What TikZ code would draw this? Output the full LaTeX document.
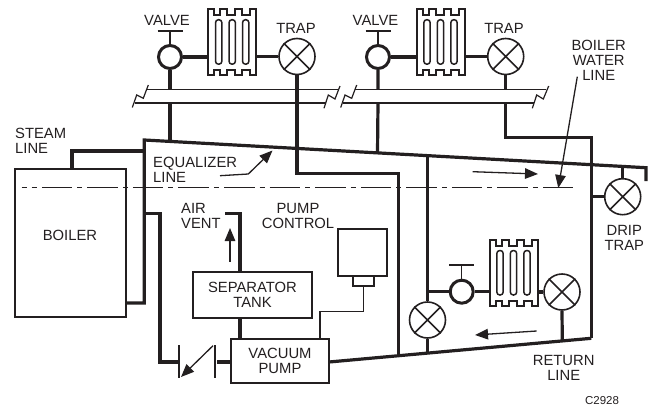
\documentclass[tikz,border=0pt]{standalone}
\usepackage{fontspec}
\setmainfont{Liberation Sans}
\usetikzlibrary{arrows.meta}
\definecolor{ink}{HTML}{231F20}
\tikzset{
  x=1pt,y=-1pt,
  pipe/.style={line width=3.2pt,draw=ink,line join=miter},
  thinpipe/.style={line width=1.2pt,draw=ink,line join=miter},
  boxed/.style={draw=ink,line width=2pt,fill=white,inner sep=0pt,align=center,text=ink},
  lbl/.style={inner sep=0pt,text=ink,align=center,font=\fontsize{14.8}{15}\selectfont},
  lblleft/.style={lbl,align=left,anchor=west},
  valvebody/.style={circle,draw=ink,line width=3pt,fill=white,minimum size=23pt,inner sep=0pt},
  trapbody/.style={circle,draw=ink,line width=1.6pt,fill=white,minimum size=36pt,inner sep=0pt},
  breakline/.style={line width=1.2pt,draw=ink,line join=miter},
  tipline/.style={line width=1.3pt,draw=ink,-{Triangle[length=13pt,width=10.5pt]}},
  radbody/.style={rectangle,minimum width=48pt,minimum height=65.5pt,inner sep=0pt},
  pics/radiator/.style={code={
    \draw[ink,line width=2pt,line join=miter,fill=white]
      (-24,-32.75)--(-18,-32.75)--(-18,-27.5)--(-12,-27.5)--(-12,-32.75)--(-5,-32.75)--(-5,-27.5)--(3,-27.5)--(3,-32.75)--(10,-32.75)--(10,-27.5)--(18,-27.5)--(18,-32.75)--(24,-32.75)
      --(24,32.75)--(18,32.75)--(18,27.5)--(10,27.5)--(10,32.75)--(3,32.75)--(3,27.5)--(-5,27.5)--(-5,32.75)--(-12,32.75)--(-12,27.5)--(-18,27.5)--(-18,32.75)--(-24,32.75)--cycle;
    \foreach \q in {-13.5,0,13.5}{
      \draw[ink,line width=1.5pt,rounded corners=3pt] (\q-3.2,-22.5) rectangle (\q+3.2,22);
    }
  }}
}
\newcommand{\trapcross}[1]{\draw[ink,line width=1.6pt] (#1.45)--(#1.225) (#1.135)--(#1.315);}
\begin{document}
\begin{tikzpicture}
\useasboundingbox (0,0) rectangle (648,407);
% header (supply) breaks
\coordinate (ta) at (147,89.5); \coordinate (tb) at (338,89.5);
\coordinate (ba) at (135,103); \coordinate (bb) at (326,103);
\coordinate (tc) at (355,89.5); \coordinate (td) at (546,89.5);
\coordinate (bc) at (343,103); \coordinate (bd) at (534,103);
\draw[breakline] (ba)--(bb) (ta)--(tb) (tc)--(td) (bc)--(bd);
\draw[breakline] (132.3,107.5)--(136.7,95)--(143.3,98.3)--(148.3,85);
\draw[breakline] (324,108.3)--(328.3,95)--(335,99)--(340,86);
\draw[breakline] (340.7,107.5)--(345,95)--(351.7,98.3)--(356.7,85);
\draw[breakline] (532.3,108.3)--(536.7,95)--(543.3,99)--(548.7,86);
% main nodes
\node[valvebody] (v1) at (170,57) {};
\node[valvebody] (v2) at (378,57) {};
\node[valvebody] (v3) at (461.7,291.7) {};
\node[trapbody] (t1) at (297,56.5) {};
\node[trapbody] (t2) at (505.7,56.5) {};
\node[trapbody] (t3) at (562,292) {};
\node[trapbody] (t4) at (427.5,320) {};
\node[trapbody] (t5) at (622.7,196.7) {};
\node[radbody] (r1) at (232.2,42.2) {};
\node[radbody] (r2) at (440.5,42.2) {};
\node[radbody] (r3) at (513.5,273) {};
% named pipe junctions
\coordinate (eqa) at (144.3,140); \coordinate (eqb) at (646,167.7); \coordinate (eqc) at (646,181);
\coordinate (eqv1) at (170,141.4); \coordinate (eqv2) at (377.5,152.9);
\coordinate (eqt4) at (427.5,155.7); \coordinate (eqt5) at (622.7,166.4);
\coordinate (bl) at (144.3,303); \coordinate (blb) at (125.5,303);
\coordinate (sl1) at (72,168.7); \coordinate (sl2) at (72,151); \coordinate (sl3) at (144.3,151);
\coordinate (rta) at (329,362); \coordinate (rtb) at (591.3,338.3);
\coordinate (rt4) at (427.5,353.1); \coordinate (rt3) at (562.3,340.9); \coordinate (rtj) at (398.3,355.7);
% pipes
\draw[pipe] (v1.south)--(v1.south|-ta) (v1.south|-ba)--(eqv1);
\draw[pipe] (v2.south)--(v2.south|-tc) (v2.south|-bc)--(eqv2);
\draw[pipe] (v1.east)--(v1.east-|r1.west);
\draw[pipe] (t1.west-|r1.east)--(t1.west);
\draw[pipe] (v2.east)--(v2.east-|r2.west);
\draw[pipe] (t2.west-|r2.east)--(t2.west);
\draw[pipe] (t1.south)--(297,173.5)--(398.3,173.5)--(rtj);
\draw[pipe] (t2.south)--(t2.south|-tc) (t2.south|-bc)--(505.7,137.3)--(591.3,137.3)--(rtb);
\draw[pipe] (blb)--(bl)--(eqa)--(eqb)--(eqc);
\draw[pipe] (sl1)--(sl2)--(sl3);
\draw[pipe] (rta)--(rtb);
\draw[pipe] (eqt4)--(t4.north);
\draw[pipe] (t4.south)--(rt4);
\draw[pipe] (427.5,291.7)--(v3.west);
\draw[pipe] (v3.east)--(v3.east-|r3.west);
\draw[pipe] (t3.west-|r3.east)--(t3.west);
\draw[pipe] (t3.south)--(rt3);
\draw[pipe] (eqt5)--(t5.north);
\draw[pipe] (591.3,196.7)--(t5.west);
% radiators on top
\pic at (r1) {radiator}; \pic at (r2) {radiator}; \pic at (r3) {radiator};
\foreach \t in {t1,t2,t3,t4,t5}{\trapcross{\t}}
% valve handles
\foreach \v/\yy in {v1/31,v2/31,v3/265.3}{
  \draw[ink,line width=1.5pt] (\v.north)--(\v.north|-0,\yy);
  \draw[ink,line width=1.7pt] ([xshift=-12.5pt]\v.north|-0,\yy)--([xshift=12.5pt]\v.north|-0,\yy);
}
% boxes
\node[draw=ink,line width=2pt,inner sep=0pt,minimum width=111pt,minimum height=148.6pt] (boiler) at (70,243) {};
\node[boxed,minimum width=118.4pt,minimum height=46pt,font=\fontsize{14.8}{15}\selectfont] (sep) at (252.5,295.3) {SEPARATOR\\TANK};
\node[boxed,minimum width=98pt,minimum height=44pt,font=\fontsize{14.8}{15}\selectfont] (vac) at (280,360.7) {VACUUM\\PUMP};
\node[boxed,minimum width=48.4pt,minimum height=46.4pt] (ctl) at (362.5,252.5) {};
\node[boxed,minimum width=21.3pt,minimum height=10.3pt] (ctls) at (363.3,280.9) {};
\coordinate (av1) at (240,213.3); \coordinate (av2) at (225,213.3);
\draw[pipe] (240,272.3)--(av1)--(av2);
\draw[pipe] (240,318.3)--(240,338.7);
\draw[thinpipe] (ctls.south)--(363.3,311.7)--(320,311.7)--(320,338.7);
\coordinate (chkl) at (179.3,362); \coordinate (chkr) at (217,362);
\draw[pipe] (144.3,213.3)--(160,213.3)--(160,362)--(chkl);
\draw[pipe] (chkr)--(vac.west|-chkr);
\draw[ink,line width=1.8pt] (179.3,345)--(179.3,378) (215,345)--(215,378);
\draw[tipline] (213,345.7)--(181,377);
\draw[tipline] (230,261.7)--(230,228);
% water line
\draw[ink,line width=1.2pt,dash pattern=on 30.5pt off 5pt on 5pt off 5.07pt,dash phase=25.5pt] (21.7,187.7)--(573,187.7);
% flow arrows
\draw[tipline] (472.7,171.7)--(538,174);
\draw[tipline] (536.7,331)--(475,335);
\draw[tipline] (577.3,76.7)--(558.3,188);
\draw[tipline,line join=miter] (220,175.7)--(248.3,174)--(272.5,150.5);
% labels
\node[lbl] at (167,20.5) {VALVE};
\node[lbl] at (375.5,20.5) {VALVE};
\node[lbl] at (296,28) {TRAP};
\node[lbl] at (504,28) {TRAP};
\node[lbl] at (598.7,60) {BOILER\\WATER\\LINE};
\node[lblleft] at (15,141) {STEAM\\LINE};
\node[lblleft] at (153,169.5) {EQUALIZER\\LINE};
\node[lblleft] at (181,215.5) {AIR\\VENT};
\node[lbl] at (298,215.5) {PUMP\\CONTROL};
\node[lbl] at (70,235.7) {BOILER};
\node[lbl] at (624.3,237.5) {DRIP\\TRAP};
\node[lbl] at (563.7,367.5) {RETURN\\LINE};
\node[lbl,font=\fontsize{11.5}{12}\selectfont] at (602,401) {C2928};
\end{tikzpicture}
\end{document}
